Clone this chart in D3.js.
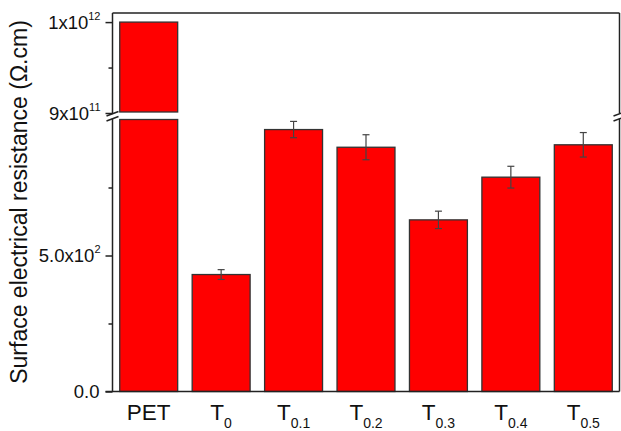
<!DOCTYPE html>
<html>
<head>
<meta charset="utf-8">
<script src="https://cdn.jsdelivr.net/npm/d3@7"></script>
<style>
  body { margin: 0; background: #fff; }
  text { font-family: "Liberation Sans", Arial, sans-serif; fill: #111; }
</style>
</head>
<body>
<script>
// categories: main label + subscript
const catMain = ['PET', 'T', 'T', 'T', 'T', 'T', 'T'];
const catSub = ['', '0', '0.1', '0.2', '0.3', '0.4', '0.5'];
// resistance values (Ω.cm) and errors
const values = [1e12, 430, 963, 898, 631, 788, 907];
const errors = [0, 18, 30, 46, 32, 40, 45];
// axis ticks
const lowMajor = [0, 500];
const lowMinor = [250, 750];
const lowLabels = [['0.0', ''], ['5.0x10', '2']];
const upMajor = [9e11, 1e12];
const upMinor = [9.5e11];
const upLabels = [['9x10', '11'], ['1x10', '12']];

const width = 621, height = 431;
const margin = { top: 13, right: 1.5, bottom: 39.5, left: 112.5 };
const plotR = width - margin.right;
const plotB = height - margin.bottom;

const svg = d3.select('body').append('svg')
  .attr('width', width).attr('height', height);

const x = d3.scaleBand()
  .domain(d3.range(values.length))
  .range([margin.left, plotR])
  .paddingInner(0.2).paddingOuter(0.1);

// broken y axis: lower and upper segments
const yLow = d3.scaleLinear().domain([0, 1000]).range([plotB, 119.5]);
const yUp = d3.scaleLinear().domain([9e11, 1.01e12]).range([113, margin.top]);

// bars
const g = svg.append('g');
values.forEach((v, i) => {
  const x0 = x(i), w = x.bandwidth();
  if (v > 1000) {
    g.append('rect').attr('x', x0).attr('width', w)
      .attr('y', yLow(1000)).attr('height', yLow(0) - yLow(1000));
    g.append('rect').attr('x', x0).attr('width', w)
      .attr('y', yUp(v)).attr('height', yUp(9e11) - 1 - yUp(v));
  } else {
    g.append('rect').attr('x', x0).attr('width', w)
      .attr('y', yLow(v)).attr('height', yLow(0) - yLow(v));
  }
});
g.selectAll('rect')
  .attr('fill', '#ff0000')
  .attr('stroke', '#333')
  .attr('stroke-width', 1.3);

// error bars
values.forEach((v, i) => {
  if (!errors[i]) return;
  const cx = x(i) + x.bandwidth() / 2;
  const eg = svg.append('g').attr('stroke', '#444').attr('stroke-width', 1.2);
  eg.append('line').attr('x1', cx).attr('x2', cx)
    .attr('y1', yLow(v + errors[i])).attr('y2', yLow(v - errors[i]));
  [v + errors[i], v - errors[i]].forEach(e => {
    eg.append('line').attr('x1', cx - 3.5).attr('x2', cx + 3.5)
      .attr('y1', yLow(e)).attr('y2', yLow(e));
  });
});

// frame
const axisCol = '#222';
const frame = svg.append('g').attr('stroke', axisCol).attr('stroke-width', 1.5).attr('fill', 'none');
frame.append('line').attr('x1', margin.left).attr('x2', plotR).attr('y1', margin.top).attr('y2', margin.top);
frame.append('line').attr('x1', margin.left - 7).attr('x2', plotR).attr('y1', plotB).attr('y2', plotB);
[margin.left, plotR].forEach(xx => {
  frame.append('line').attr('x1', xx).attr('x2', xx).attr('y1', margin.top).attr('y2', 113.5);
  frame.append('line').attr('x1', xx).attr('x2', xx).attr('y1', 118.5).attr('y2', plotB);
  // break marks
  frame.append('line').attr('x1', xx - 6).attr('x2', xx + 6).attr('y1', 116).attr('y2', 111.5);
  frame.append('line').attr('x1', xx - 6).attr('x2', xx + 6).attr('y1', 121).attr('y2', 116.5);
});

// y axes ticks via d3 axis
function drawAxis(scale, major, minor, labels) {
  const ax = svg.append('g').attr('transform', `translate(${margin.left},0)`);
  ax.call(d3.axisLeft(scale).tickValues(major).tickSize(7).tickFormat(''));
  const axm = svg.append('g').attr('transform', `translate(${margin.left},0)`);
  axm.call(d3.axisLeft(scale).tickValues(minor).tickSize(4).tickFormat(''));
  [ax, axm].forEach(a => {
    a.select('.domain').remove();
    a.selectAll('line').attr('stroke', axisCol).attr('stroke-width', 1.5);
  });
  major.forEach((t, i) => {
    const txt = svg.append('text')
      .attr('x', labels[i][1] ? margin.left - 12 : margin.left - 13)
      .attr('y', scale(t) + 6.5)
      .attr('text-anchor', 'end')
      .attr('font-size', 18.5);
    txt.append('tspan').text(labels[i][0]);
    if (labels[i][1]) {
      txt.append('tspan').attr('font-size', 11).attr('dy', -9).text(labels[i][1]);
    }
  });
}
drawAxis(yLow, lowMajor, lowMinor, lowLabels);
drawAxis(yUp, upMajor, upMinor, upLabels);

// category labels
catMain.forEach((c, i) => {
  const cx = x(i) + x.bandwidth() / 2;
  const t = svg.append('text')
    .attr('x', cx).attr('y', 420)
    .attr('text-anchor', 'middle')
    .attr('font-size', 22.5);
  t.append('tspan').text(c);
  if (catSub[i]) t.append('tspan').attr('font-size', 14).attr('dy', 8).text(catSub[i]);
});

// y title
svg.append('text')
  .attr('transform', `translate(27,202) rotate(-90)`)
  .attr('text-anchor', 'middle')
  .attr('font-size', 23)
  .text('Surface electrical resistance (\u03A9.cm)');
</script>
</body>
</html>
